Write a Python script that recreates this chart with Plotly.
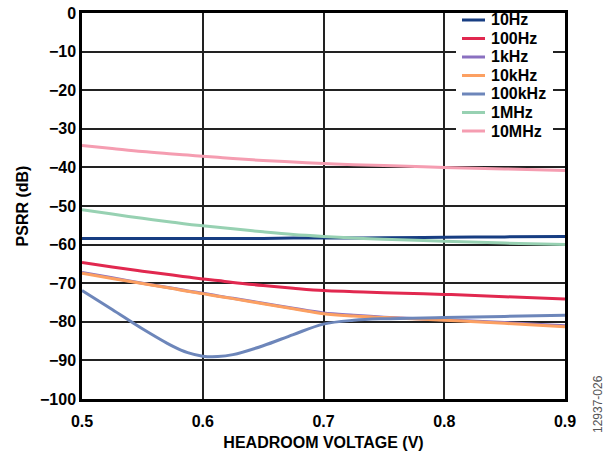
import plotly.graph_objects as go

# Headroom voltage sweep (V)
headroom = [0.5, 0.525, 0.55, 0.575, 0.5875, 0.6, 0.6125, 0.625, 0.65, 0.675, 0.7, 0.725, 0.75, 0.8, 0.85, 0.9]

# PSRR (dB) per ripple frequency
psrr_10hz = [-58.4, -58.4, -58.4, -58.4, -58.4, -58.4, -58.4, -58.4, -58.4, -58.3, -58.3, -58.3, -58.2, -58.1, -58.0, -57.9]
psrr_100hz = [-64.6, -65.8, -66.9, -67.9, -68.4, -68.9, -69.3, -69.8, -70.6, -71.3, -71.9, -72.2, -72.5, -72.9, -73.5, -74.1]
psrr_1khz = [-67.2, -68.6, -70.0, -71.3, -72.0, -72.6, -73.3, -73.9, -75.2, -76.5, -77.7, -78.3, -78.8, -79.5, -80.2, -81.0]
psrr_10khz = [-67.4, -68.8, -70.1, -71.4, -72.1, -72.7, -73.4, -74.0, -75.3, -76.6, -77.9, -78.5, -78.9, -79.6, -80.4, -81.3]
psrr_100khz = [-71.9, -76.8, -81.8, -86.3, -88.0, -88.9, -89.0, -88.5, -86.2, -83.3, -80.6, -79.6, -79.2, -78.9, -78.6, -78.3]
psrr_1mhz = [-51.0, -52.1, -53.2, -54.2, -54.7, -55.1, -55.5, -55.9, -56.7, -57.4, -57.9, -58.3, -58.6, -59.1, -59.6, -60.0]
psrr_10mhz = [-34.3, -35.1, -35.9, -36.5, -36.8, -37.1, -37.4, -37.7, -38.2, -38.6, -39.0, -39.3, -39.5, -40.0, -40.4, -40.8]

series = [
    ("10Hz", psrr_10hz, "#173d82"),
    ("100Hz", psrr_100hz, "#e1284f"),
    ("1kHz", psrr_1khz, "#8a70c0"),
    ("10kHz", psrr_10khz, "#fca062"),
    ("100kHz", psrr_100khz, "#6d86ba"),
    ("1MHz", psrr_1mhz, "#97d1b2"),
    ("10MHz", psrr_10mhz, "#f59db1"),
]

y_ticks = list(range(-100, 1, 10))
x_ticks = [0.5, 0.6, 0.7, 0.8, 0.9]

FONT = "Arial, Liberation Sans, sans-serif"
BOLD16 = dict(family=FONT, size=16, color="black", weight="bold")

# Plot-area geometry in pixels (used to lay out the compact key)
W, H = 616, 455
ML, MR, MT, MB = 82, 51, 13, 56
PW, PH = W - ML - MR, H - MT - MB


def px_x(px):
    return (px - ML) / PW


def px_y(py):
    return 1 - (py - MT) / PH


fig = go.Figure()
for name, values, color in series:
    fig.add_trace(go.Scatter(
        x=headroom, y=values, name=name, mode="lines",
        line=dict(color=color, width=3, shape="spline", smoothing=1.0),
        showlegend=False,
    ))

fig.update_layout(
    width=W, height=H,
    margin=dict(l=ML, r=MR, t=MT, b=MB),
    paper_bgcolor="white", plot_bgcolor="white",
    font=dict(family=FONT, size=16, color="black"),
    showlegend=False,
)

fig.update_xaxes(
    range=[0.5, 0.9], tickvals=x_ticks, ticktext=[f"{v:.1f}" for v in x_ticks],
    showgrid=True, gridcolor="#222222", gridwidth=1.5,
    showline=True, linecolor="black", linewidth=2.5, mirror=True,
    ticks="", zeroline=False, automargin=False, ticklabelstandoff=6,
    tickfont=BOLD16,
    title=dict(text="HEADROOM VOLTAGE (V)", standoff=8, font=BOLD16),
)
fig.update_yaxes(
    range=[-100, 0], tickvals=y_ticks,
    showgrid=True, gridcolor="#222222", gridwidth=1.5,
    showline=True, linecolor="black", linewidth=2.5, mirror=True,
    ticks="", zeroline=False, automargin=False,
    tickfont=BOLD16,
    title=dict(text="PSRR (dB)", standoff=8, font=BOLD16),
)

# Compact key in the upper-right corner: white panel, short line samples, bold names
fig.add_shape(
    type="rect", xref="paper", yref="paper",
    x0=px_x(456), x1=px_x(553), y0=px_y(141), y1=px_y(14),
    fillcolor="white", line=dict(width=0), layer="above",
)
for i, (name, _, color) in enumerate(series):
    yc = px_y(20 + 18.5 * i)
    fig.add_shape(
        type="line", xref="paper", yref="paper",
        x0=px_x(462), x1=px_x(485), y0=yc, y1=yc,
        line=dict(color=color, width=3), layer="above",
    )
    fig.add_annotation(
        text=name, xref="paper", yref="paper",
        x=px_x(489), y=yc, xanchor="left", yanchor="middle",
        showarrow=False, font=BOLD16,
    )

fig.add_annotation(
    text="12937-026", xref="paper", yref="paper",
    x=px_x(598), y=px_y(404), xanchor="center", yanchor="middle",
    textangle=-90, showarrow=False,
    font=dict(family=FONT, size=12, color="#555555"),
)

fig.write_html("out.html")
